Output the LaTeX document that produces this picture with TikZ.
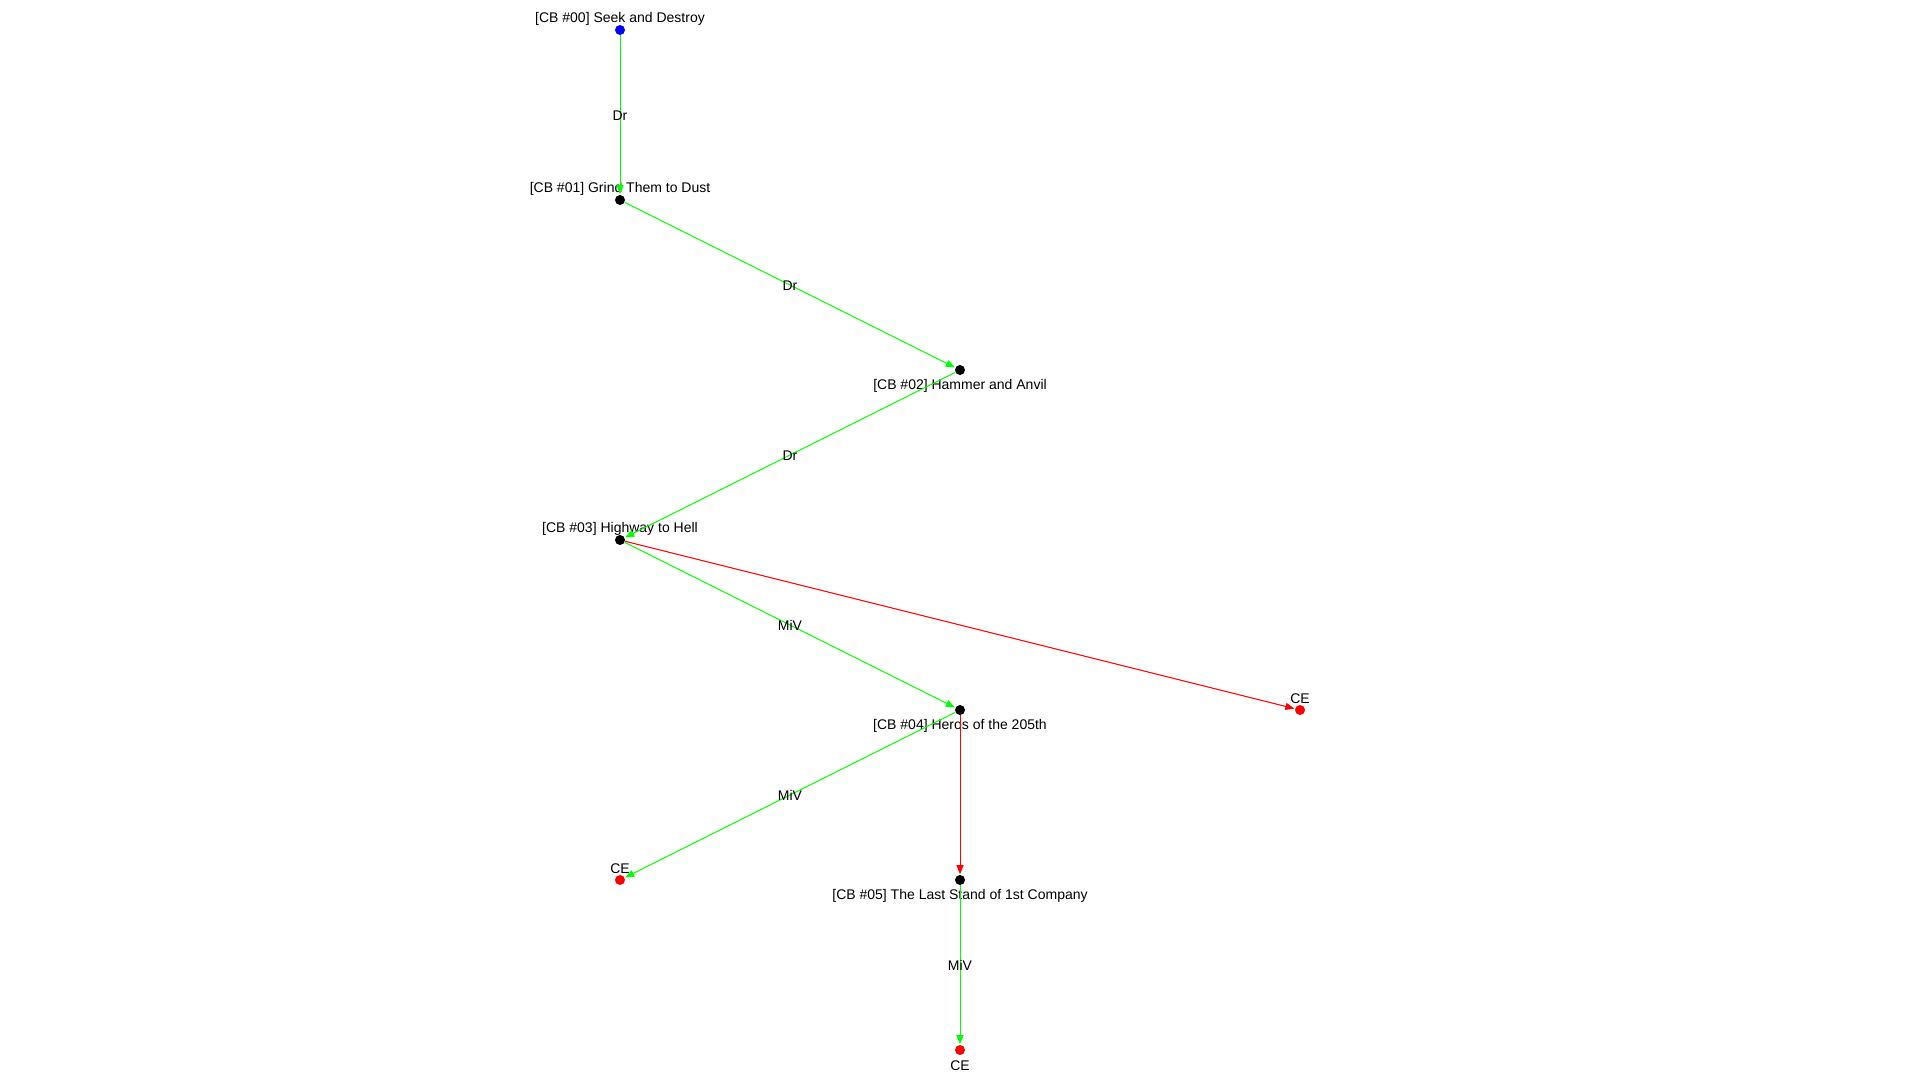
\documentclass[tikz,border=0pt]{standalone}
\usepackage{fontspec}
\setmainfont{Liberation Sans}
\usetikzlibrary{arrows.meta}
\definecolor{eg}{RGB}{0,255,0}
\definecolor{er}{RGB}{255,0,0}
\begin{document}
\begin{tikzpicture}[x=0.5pt,y=-0.5pt,
  dot/.style={circle,inner sep=0pt,minimum size=5pt,fill=black},
  lbl/.style={font=\fontsize{7}{8}\selectfont,inner sep=0pt},
  elbl/.style={font=\fontsize{7}{8}\selectfont,inner sep=0pt,yshift=-0.4pt},
  gedge/.style={draw=eg,line width=0.5pt,-{Triangle[length=4.5pt,width=3.5pt]},shorten >=0.2pt},
  redge/.style={draw=er,line width=0.5pt,-{Triangle[length=4.5pt,width=3.5pt]},shorten >=0.2pt}]
\useasboundingbox (0,0) rectangle (1920,1080);
\fill[white] (0,0) rectangle (1920,1080);
\node[dot,fill=blue] (n0) at (620,30) {};
\node[dot] (n1) at (620,200) {};
\node[dot] (n2) at (960,370) {};
\node[dot] (n3) at (620,540) {};
\node[dot] (n4) at (960,710) {};
\node[dot,fill=er] (ce1) at (1300,710) {};
\node[dot,fill=er] (ce2) at (620,880) {};
\node[dot] (n5) at (960,880) {};
\node[dot,fill=er] (ce3) at (960,1050) {};
\node[lbl] (t0) at (620,19) {[CB \#00] Seek and Destroy};
\node[lbl] (t1) at (620,189) {[CB \#01] Grind Them to Dust};
\node[lbl] (t2) at (960,386) {[CB \#02] Hammer and Anvil};
\node[lbl] (t3) at (620,529) {[CB \#03] Highway to Hell};
\node[lbl] (t4) at (960,726) {[CB \#04] Heros of the 205th};
\node[lbl] (tc1) at (1300,699) {CE};
\node[lbl] (tc2) at (620,869) {CE};
\node[lbl] (t5) at (960,896) {[CB \#05] The Last Stand of 1st Company};
\node[lbl] (tc3) at (960,1066) {CE};
\draw[gedge] (n0) -- node[elbl]{Dr} (n1);
\draw[gedge] (n1) -- node[elbl]{Dr} (n2);
\draw[gedge] (n2) -- node[elbl]{Dr} (n3);
\draw[gedge] (n3) -- node[elbl]{MiV} (n4);
\draw[redge] (n3) -- (ce1);
\draw[gedge] (n4) -- node[elbl]{MiV} (ce2);
\draw[redge] (n4) -- (n5);
\draw[gedge] (n5) -- node[elbl]{MiV} (ce3);
\end{tikzpicture}
\end{document}
